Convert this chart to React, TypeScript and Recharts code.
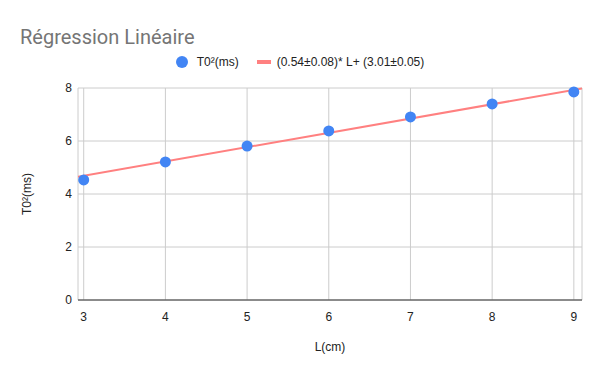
import { ComposedChart, Scatter, Line, XAxis, YAxis, CartesianGrid } from 'recharts';

const lengths = [3, 4, 5, 6, 7, 8, 9];
const t0Squared = [4.53, 5.21, 5.81, 6.38, 6.91, 7.4, 7.85];
const trendX = [2.93, 9.1];
const trendY = [4.65, 7.98];
const xTicks = [3, 4, 5, 6, 7, 8, 9];
const yTicks = [0, 2, 4, 6, 8];

const points = lengths.map((x, i) => ({ x, y: t0Squared[i] }));
const trend = trendX.map((x, i) => ({ x, y: trendY[i] }));

const FONT = 'Arial, "Liberation Sans", sans-serif';
const BLUE = '#4285f4';
const RED = '#ff8080';

function LegendBox() {
    return (
        <div style={{ position: 'absolute', left: 0, top: 55, width: 600, display: 'flex', justifyContent: 'center', alignItems: 'center', fontFamily: FONT, fontSize: 12, color: '#222' }}>
            <span style={{ display: 'inline-block', width: 12, height: 12, borderRadius: 6, background: BLUE, marginRight: 9 }} />
            <span style={{ marginRight: 18 }}>T0²(ms)</span>
            <span style={{ display: 'inline-block', width: 14, height: 4, background: RED, marginRight: 6 }} />
            <span>(0.54±0.08)* L+ (3.01±0.05)</span>
        </div>
    );
}

export default function App() {
    return (
        <div style={{ position: 'absolute', left: 0, top: 0, width: 600, height: 371, background: '#fff' }}>
            <div style={{ position: 'absolute', left: 20, top: 25, fontFamily: 'Roboto, sans-serif', fontSize: 20, color: '#757575' }}>
                Régression Linéaire
            </div>
            <LegendBox />
            <ComposedChart width={600} height={371} margin={{ top: 88, right: 18, bottom: 0, left: 0 }}>
                <CartesianGrid stroke="#cccccc" />
                <XAxis
                    dataKey="x"
                    type="number"
                    domain={[2.93, 9.1]}
                    ticks={xTicks}
                    allowDataOverflow
                    height={71}
                    tickLine={false}
                    tickSize={0}
                    tickMargin={12}
                    axisLine={{ stroke: '#333' }}
                    tick={{ fill: '#222', fontSize: 12, fontFamily: FONT }}
                    label={{ value: 'L(cm)', position: 'insideBottom', offset: 20, fill: '#222', fontSize: 12, fontFamily: FONT }}
                />
                <YAxis
                    type="number"
                    domain={[0, 8]}
                    ticks={yTicks}
                    width={78}
                    axisLine={false}
                    tickLine={false}
                    tickSize={0}
                    tickMargin={6}
                    tick={{ fill: '#222', fontSize: 12, fontFamily: FONT }}
                    label={{
                        content: () => (
                            <text x={27} y={194} transform="rotate(-90 27 194)" textAnchor="middle" dominantBaseline="central" fill="#222" fontSize={12} fontFamily={FONT}>
                                T0²(ms)
                            </text>
                        ),
                    }}
                />
                <Line data={trend} dataKey="y" stroke={RED} strokeWidth={2} dot={false} isAnimationActive={false} />
                <Scatter
                    data={points}
                    dataKey="y"
                    fill={BLUE}
                    isAnimationActive={false}
                    shape={(p: any) => <circle cx={p.cx} cy={p.cy} r={5.5} fill={BLUE} />}
                />
            </ComposedChart>
        </div>
    );
}
